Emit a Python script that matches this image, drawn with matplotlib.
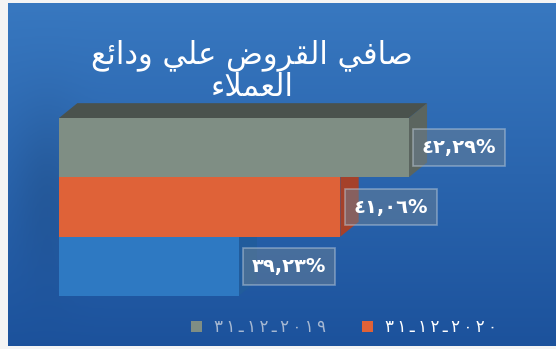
import matplotlib
matplotlib.use("Agg")
import matplotlib.pyplot as plt
from matplotlib.patches import Polygon
import numpy as np

title_lines = ["صافي القروض علي ودائع", "العملاء"]
series_dates = ["31-12-2019", "31-12-2020", ""]
values = [42.29, 41.06, 39.23]
colors = ["#7f8e84", "#df6238", "#2e79c2"]
side_colors = ["#5b655f", "#a5412a", "#215c9c"]
top_color = "#4a524d"
axis_min = 36

# presentation forms: isolated, final, initial, medial
FORMS = {
    'ا': (0xFE8D, 0xFE8E),
    'ء': (0xFE80,),
    'ئ': (0xFE89, 0xFE8A, 0xFE8B, 0xFE8C),
    'د': (0xFEA9, 0xFEAA),
    'ر': (0xFEAD, 0xFEAE),
    'ص': (0xFEB9, 0xFEBA, 0xFEBB, 0xFEBC),
    'ض': (0xFEBD, 0xFEBE, 0xFEBF, 0xFEC0),
    'ع': (0xFEC9, 0xFECA, 0xFECB, 0xFECC),
    'ف': (0xFED1, 0xFED2, 0xFED3, 0xFED4),
    'ق': (0xFED5, 0xFED6, 0xFED7, 0xFED8),
    'ل': (0xFEDD, 0xFEDE, 0xFEDF, 0xFEE0),
    'م': (0xFEE1, 0xFEE2, 0xFEE3, 0xFEE4),
    'و': (0xFEED, 0xFEEE),
    'ي': (0xFEF1, 0xFEF2, 0xFEF3, 0xFEF4),
}
LAM_ALEF = (0xFEFB, 0xFEFC)


def shape(text):
    # join arabic letters and flip to visual order (matplotlib has no bidi)
    units = []
    i = 0
    while i < len(text):
        if text[i] == 'ل' and text[i + 1:i + 2] == 'ا':
            units.append('LA')
            i += 2
        else:
            units.append(text[i])
            i += 1

    def forms(u):
        return LAM_ALEF if u == 'LA' else FORMS.get(u)

    out = []
    for k, u in enumerate(units):
        f = forms(u)
        if f is None:
            out.append(u)
            continue
        prev = forms(units[k - 1]) if k > 0 else None
        nxt = forms(units[k + 1]) if k + 1 < len(units) else None
        jp = prev is not None and len(prev) == 4 and len(f) >= 2
        jn = len(f) == 4 and nxt is not None and len(nxt) >= 2
        if jp and jn:
            cp = f[3]
        elif jp:
            cp = f[1]
        elif jn:
            cp = f[2]
        else:
            cp = f[0]
        out.append(chr(cp))
    return ''.join(reversed(out))


def ar_digits(s):
    return s.translate(str.maketrans("0123456789-", "٠١٢٣٤٥٦٧٨٩ـ"))


fig = plt.figure(figsize=(5.56, 3.49), dpi=100)
fig.patch.set_facecolor("#f4f4f4")

# blue gradient backdrop
bg = fig.add_axes([8 / 556, 3 / 349, 548 / 556, 343 / 349])
bg.set_axis_off()
h, w = 200, 300
yy = np.linspace(0, 1, h)[:, None]
xx = np.linspace(0, 1, w)[None, :]
top = np.array([56, 120, 192]) / 255
bot = np.array([28, 82, 156]) / 255
grad = top[None, None, :] * (1 - yy[..., None]) + bot[None, None, :] * yy[..., None]
# soft darker patch down the left, behind the bars
shade = 1 - 0.10 * np.exp(-((xx - 0.07) / 0.06) ** 2 - ((yy - 0.55) / 0.25) ** 2)
grad = grad * shade[..., None]
bg.imshow(np.clip(grad, 0, 1), aspect="auto", extent=[0, 1, 0, 1])
bg.set_xlim(0, 1)
bg.set_ylim(0, 1)

ax = fig.add_axes([59 / 556, 53 / 349, 444.8 / 556, 178 / 349])
ax.set_xlim(axis_min, 44)
ax.set_ylim(-0.5, 2.5)
ax.set_axis_off()

ypos = [2, 1, 0]
dx, dy = 0.33, 0.25

# side faces first so the fronts cover them
for y, v, sc in zip(ypos, values, side_colors):
    ax.add_patch(Polygon([(v, y - 0.5), (v + dx, y - 0.5 + dy),
                          (v + dx, y + 0.5 + dy), (v, y + 0.5)],
                         closed=True, facecolor=sc, edgecolor="none",
                         zorder=1, clip_on=False))

# top face of the upper bar
ax.add_patch(Polygon([(axis_min, 2.5), (axis_min + dx, 2.5 + dy),
                      (values[0] + dx, 2.5 + dy), (values[0], 2.5)],
                     closed=True, facecolor=top_color, edgecolor="none",
                     zorder=1, clip_on=False))

bars = ax.barh(ypos, [v - axis_min for v in values], left=axis_min,
               height=1.0, color=colors, edgecolor="none", zorder=2)

for y, v in zip(ypos, values):
    label = ar_digits(f"{v:.2f}".replace(".", ",")) + "%"
    ax.annotate(label, xy=(v, y), xytext=(9.5, 0), textcoords="offset points",
                ha="left", va="center", color="white", fontsize=14,
                fontweight="semibold", zorder=4, annotation_clip=False,
                bbox=dict(boxstyle="square,pad=0.45", facecolor=(0.42, 0.5, 0.58, 0.5),
                          edgecolor=(0.8, 0.85, 0.9, 0.45), linewidth=1.2))

fig.text(252 / 556, 1 - 55 / 349, shape(title_lines[0]), ha="center", va="center",
         color="white", fontsize=22)
fig.text(252 / 556, 1 - 88 / 349, shape(title_lines[1]), ha="center", va="center",
         color="white", fontsize=22)

handles = [bars[0], bars[1]]
names = ["\u2009".join(ar_digits(d)) for d in series_dates[:2]]
leg = fig.legend(handles, names,
                 loc="center", bbox_to_anchor=(344 / 556, 1 - 327 / 349),
                 ncol=2, frameon=False, fontsize=12, handlelength=0.65,
                 handleheight=0.65, handletextpad=0.7, columnspacing=2.2)
leg.get_texts()[0].set_color("#a6b8d2")
leg.get_texts()[1].set_color("white")

fig.savefig("out.png", dpi=100, facecolor=fig.get_facecolor())
